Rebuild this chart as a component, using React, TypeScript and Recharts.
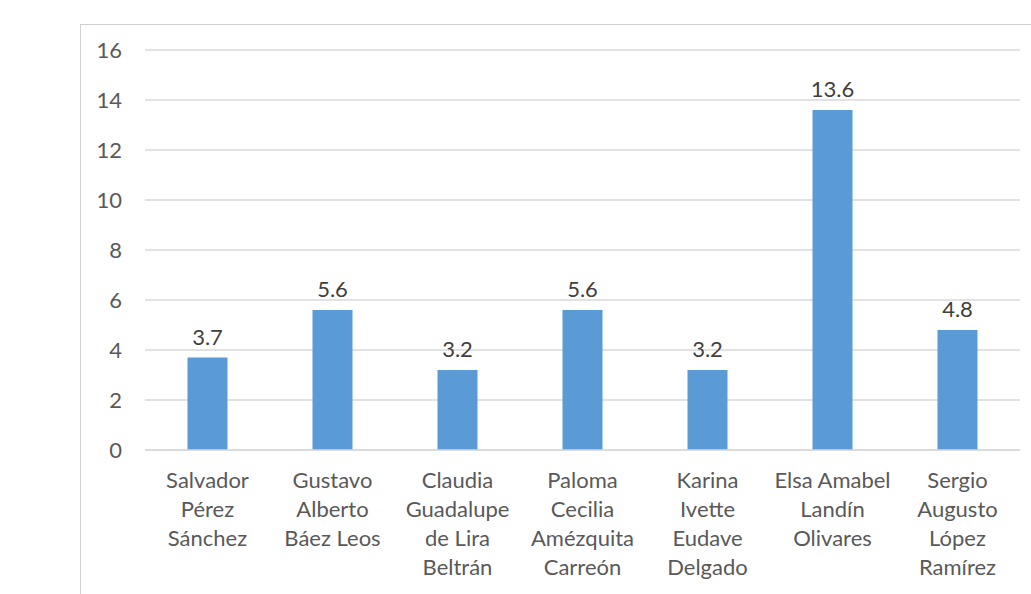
import React from "react";
import {
  BarChart,
  Bar,
  XAxis,
  YAxis,
  CartesianGrid,
  LabelList,
} from "recharts";

// category names, split the way the original wraps them
const names = [
  "Salvador\nPérez\nSánchez",
  "Gustavo\nAlberto\nBáez Leos",
  "Claudia\nGuadalupe\nde Lira\nBeltrán",
  "Paloma\nCecilia\nAmézquita\nCarreón",
  "Karina\nIvette\nEudave\nDelgado",
  "Elsa Amabel\nLandín\nOlivares",
  "Sergio\nAugusto\nLópez\nRamírez",
];

const values = [3.7, 5.6, 3.2, 5.6, 3.2, 13.6, 4.8];

const yTicks = [0, 2, 4, 6, 8, 10, 12, 14, 16];

const data = names.map((name, i) => ({ name, value: values[i] }));

const FONT = "Lato, 'Open Sans', sans-serif";

// multi-line category label
const NameTick = (props: any) => {
  const { x, y, payload } = props;
  const lines = String(payload.value).split("\n");
  return (
    <text
      x={x}
      y={y}
      textAnchor="middle"
      fill="#595959"
      fontSize={22}
      fontFamily={FONT}
    >
      {lines.map((l, i) => (
        <tspan key={i} x={x} dy={i === 0 ? 30 : 29}>
          {l}
        </tspan>
      ))}
    </text>
  );
};

export default function App() {
  return (
    <div
      style={{
        position: "absolute",
        left: 0,
        top: 0,
        width: 1031,
        height: 594,
        background: "#ffffff",
        overflow: "hidden",
      }}
    >
      {/* chart frame */}
      <div
        style={{
          position: "absolute",
          left: 80,
          top: 24,
          width: 1000,
          height: 600,
          borderLeft: "1.5px solid #D0D0D4",
          borderTop: "1.5px solid #D0D0D4",
        }}
      />

      <div style={{ position: "absolute", left: 0, top: 0 }}>
        <BarChart
          width={1031}
          height={594}
          data={data}
          margin={{ top: 50, right: 11, bottom: 0, left: 0 }}
          barCategoryGap="34%"
        >
          <CartesianGrid
            vertical={false}
            stroke="#D9D9D9"
            strokeWidth={1.5}
          />

          <XAxis
            dataKey="name"
            interval={0}
            tickLine={false}
            axisLine={{ stroke: "#D9D9D9", strokeWidth: 1.5 }}
            tick={<NameTick />}
            height={144}
          />

          <YAxis
            width={145}
            domain={[0, 16]}
            ticks={yTicks}
            tickLine={false}
            axisLine={false}
            tickMargin={17}
            tick={{ fill: "#595959", fontSize: 22, fontFamily: FONT }}
          />

          <Bar
            dataKey="value"
            fill="#5B9BD5"
            isAnimationActive={false}
          >
            <LabelList
              dataKey="value"
              position="top"
              offset={13}
              fill="#404040"
              fontSize={22}
              fontFamily={FONT}
            />
          </Bar>
        </BarChart>
      </div>
    </div>
  );
}
